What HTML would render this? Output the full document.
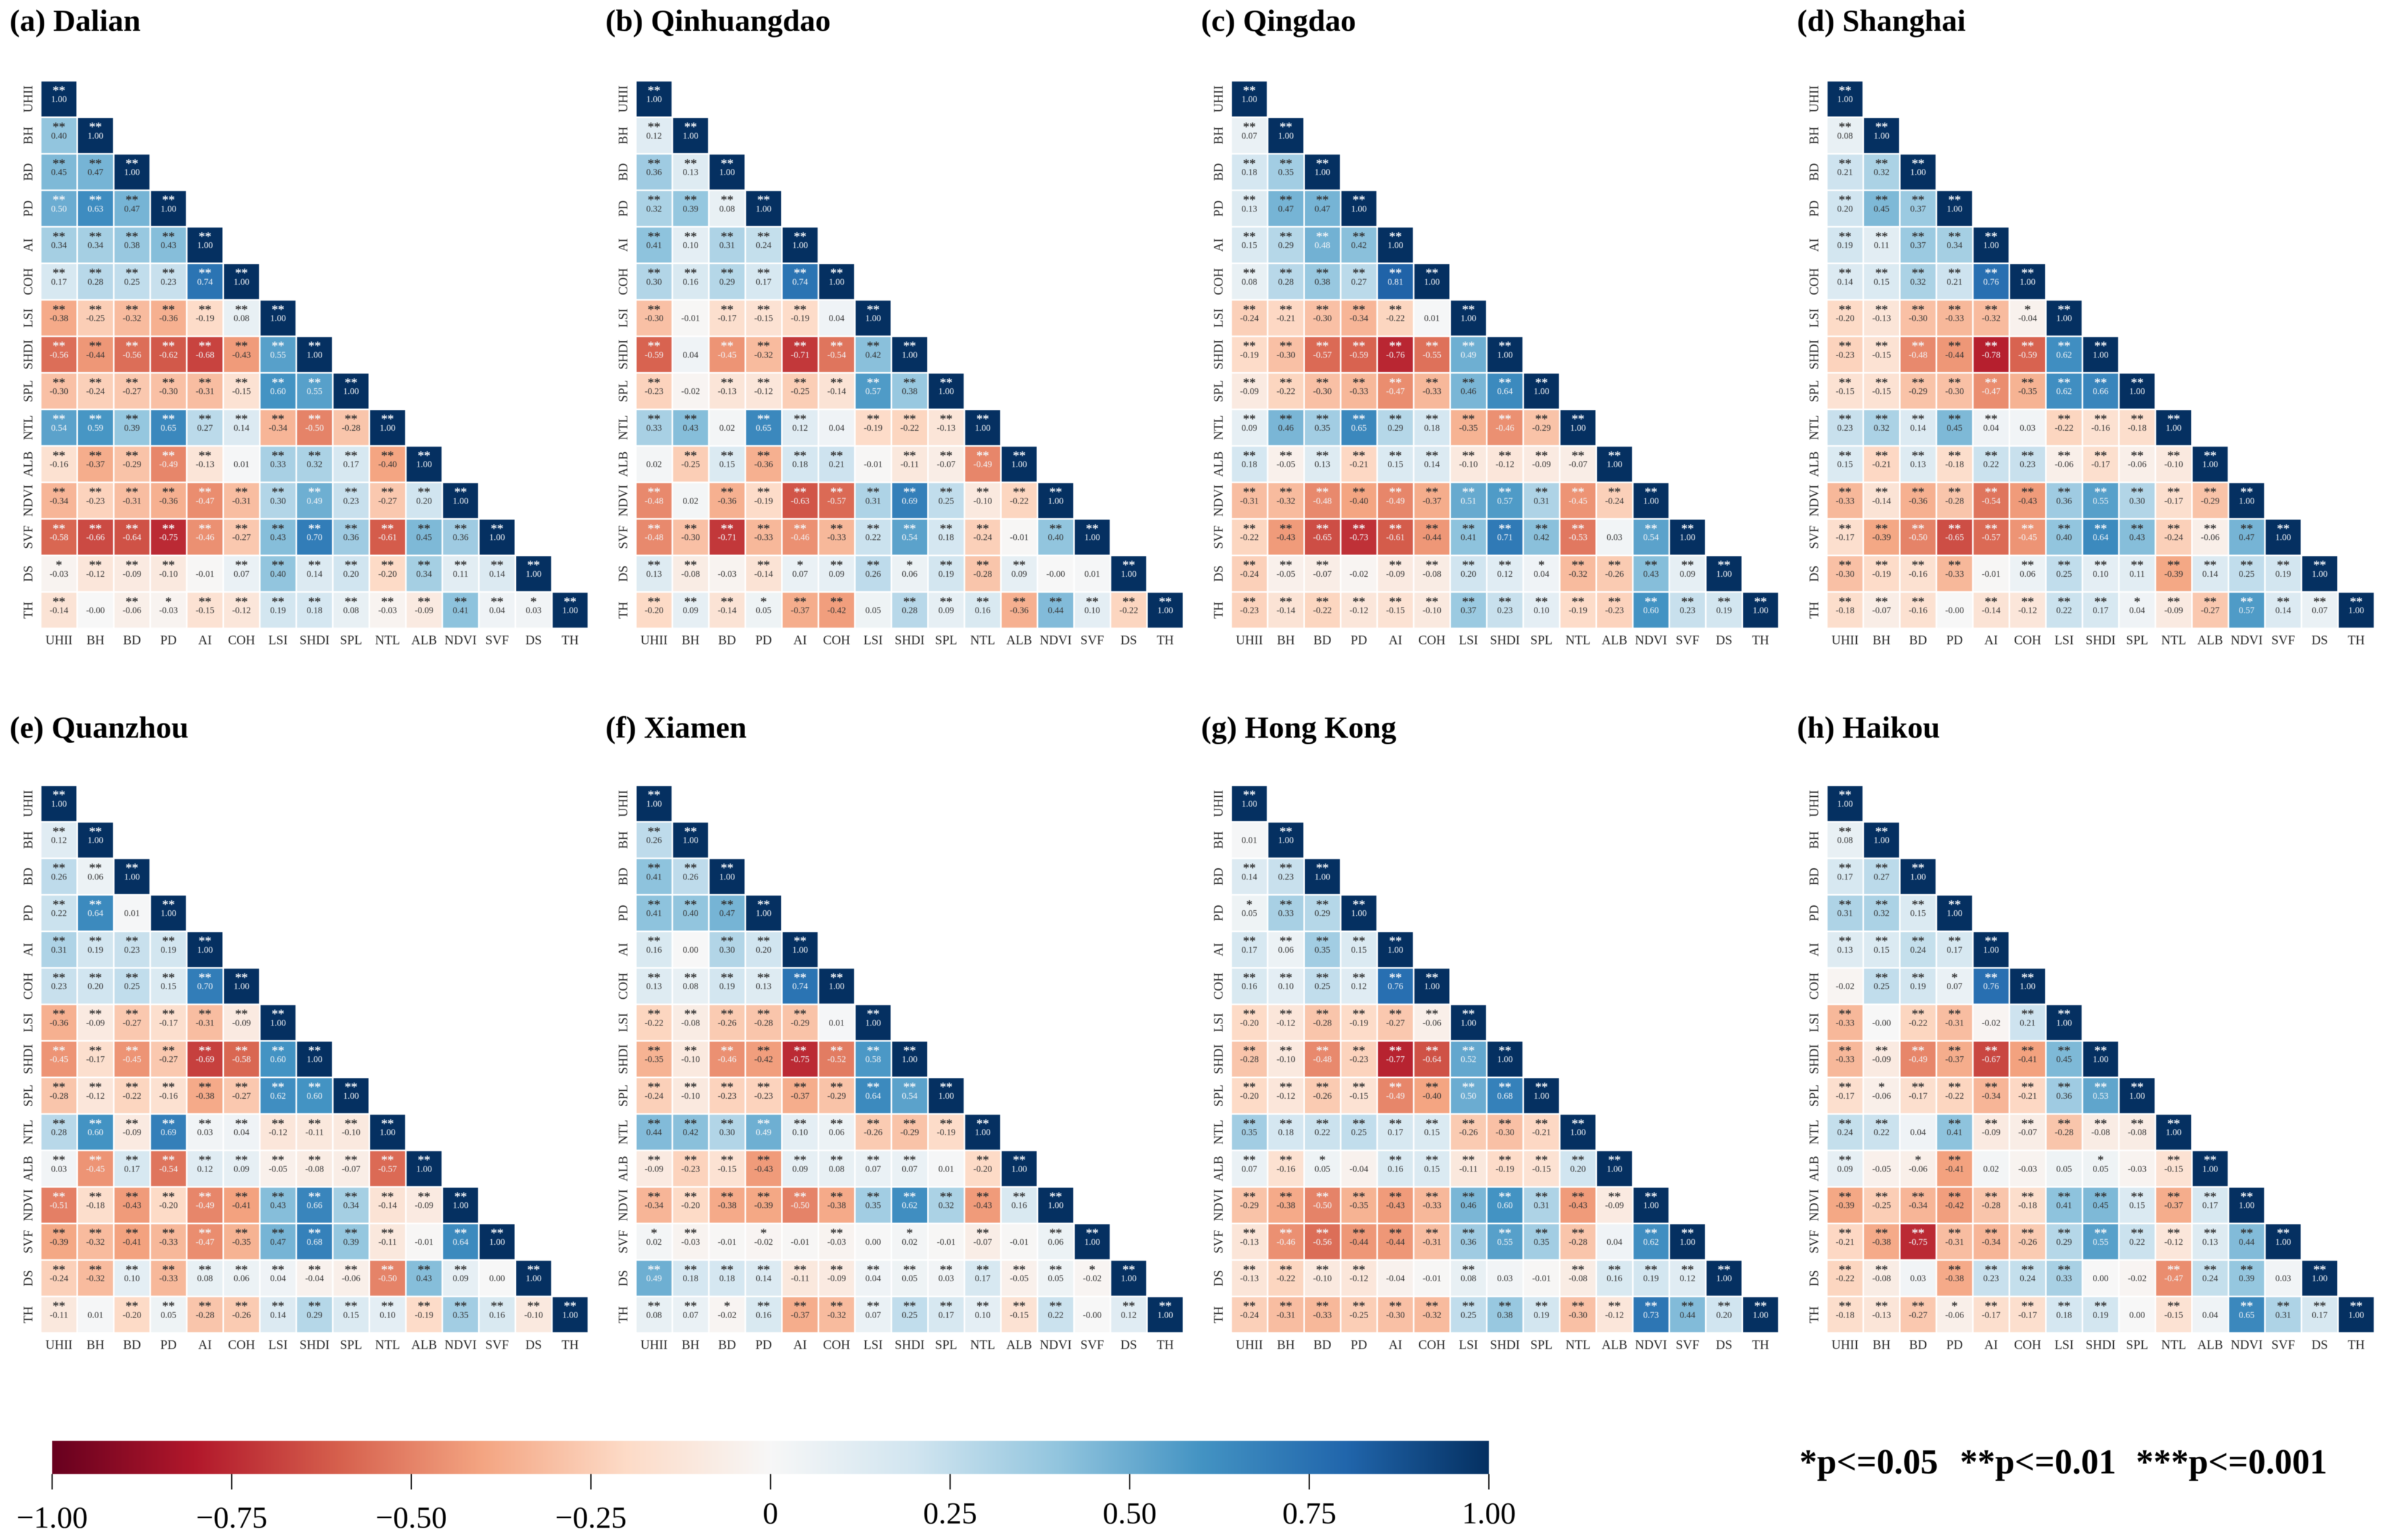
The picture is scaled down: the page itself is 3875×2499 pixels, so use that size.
<!DOCTYPE html>
<html lang="en">
<head>
<meta charset="utf-8">
<title>Correlation heatmaps of eight coastal cities</title>
<style>
html,body{margin:0;padding:0;background:#fff;}
body{width:3875px;height:2499px;overflow:hidden;}
svg{display:block;font-family:"Liberation Serif",serif;filter:blur(0.6px);}
</style>
</head>
<body>
<svg id="figure" xmlns="http://www.w3.org/2000/svg" width="3875" height="2499" viewBox="0 0 3875 2499">
  <defs>
    <linearGradient id="rdbu" x1="0" x2="1" y1="0" y2="0"></linearGradient>
  </defs>
  <rect x="0" y="0" width="3875" height="2499" fill="#fff"></rect>
</svg>
<script>
const categories = ['UHII','BH','BD','PD','AI','COH','LSI','SHDI','SPL','NTL','ALB','NDVI','SVF','DS','TH'];

const dalianValues = [
[1],
[.40,1],
[.45,.47,1],
[.50,.63,.47,1],
[.34,.34,.38,.43,1],
[.17,.28,.25,.23,.74,1],
[-.38,-.25,-.32,-.36,-.19,.08,1],
[-.56,-.44,-.56,-.62,-.68,-.43,.55,1],
[-.30,-.24,-.27,-.30,-.31,-.15,.60,.55,1],
[.54,.59,.39,.65,.27,.14,-.34,-.50,-.28,1],
[-.16,-.37,-.29,-.49,-.13,.01,.33,.32,.17,-.40,1],
[-.34,-.23,-.31,-.36,-.47,-.31,.30,.49,.23,-.27,.20,1],
[-.58,-.66,-.64,-.75,-.46,-.27,.43,.70,.36,-.61,.45,.36,1],
[-.03,-.12,-.09,-.10,-.01,.07,.40,.14,.20,-.20,.34,.11,.14,1],
[-.14,-0,-.06,-.03,-.15,-.12,.19,.18,.08,-.03,-.09,.41,.04,.03,1]
];
const dalianStars = ['2','22','222','2222','22222','222222','2222222','22222222','222222222','2222222222','22222022222','222222222222','2222222222222','12220222222222','202122222222212'];

const qinhuangdaoValues = [
[1],
[.12,1],
[.36,.13,1],
[.32,.39,.08,1],
[.41,.10,.31,.24,1],
[.30,.16,.29,.17,.74,1],
[-.30,-.01,-.17,-.15,-.19,.04,1],
[-.59,.04,-.45,-.32,-.71,-.54,.42,1],
[-.23,-.02,-.13,-.12,-.25,-.14,.57,.38,1],
[.33,.43,.02,.65,.12,.04,-.19,-.22,-.13,1],
[.02,-.25,.15,-.36,.18,.21,-.01,-.11,-.07,-.49,1],
[-.48,.02,-.36,-.19,-.63,-.57,.31,.69,.25,-.10,-.22,1],
[-.48,-.30,-.71,-.33,-.46,-.33,.22,.54,.18,-.24,-.01,.40,1],
[.13,-.08,-.03,-.14,.07,.09,.26,.06,.19,-.28,.09,-0,.01,1],
[-.20,.09,-.14,.05,-.37,-.42,.05,.28,.09,.16,-.36,.44,.10,-.22,1]
];
const qinhuangdaoStars = ['2','22','222','2222','22222','222222','2022202','20222222','202222222','2202202222','02222202222','202222222222','2222222222022','22021221222002','222122022222222'];

const qingdaoValues = [
[1],
[.07,1],
[.18,.35,1],
[.13,.47,.47,1],
[.15,.29,.48,.42,1],
[.08,.28,.38,.27,.81,1],
[-.24,-.21,-.30,-.34,-.22,.01,1],
[-.19,-.30,-.57,-.59,-.76,-.55,.49,1],
[-.09,-.22,-.30,-.33,-.47,-.33,.46,.64,1],
[.09,.46,.35,.65,.29,.18,-.35,-.46,-.29,1],
[.18,-.05,.13,-.21,.15,.14,-.10,-.12,-.09,-.07,1],
[-.31,-.32,-.48,-.40,-.49,-.37,.51,.57,.31,-.45,-.24,1],
[-.22,-.43,-.65,-.73,-.61,-.44,.41,.71,.42,-.53,.03,.54,1],
[-.24,-.05,-.07,-.02,-.09,-.08,.20,.12,.04,-.32,-.26,.43,.09,1],
[-.23,-.14,-.22,-.12,-.15,-.10,.37,.23,.10,-.19,-.23,.60,.23,.19,1]
];
const qingdaoStars = ['2','22','222','2222','22222','222222','2222202','22222222','222222222','2222222222','22222222222','222222222222','2222222222022','22202222122222','222222222222222'];

const shanghaiValues = [
[1],
[.08,1],
[.21,.32,1],
[.20,.45,.37,1],
[.19,.11,.37,.34,1],
[.14,.15,.32,.21,.76,1],
[-.20,-.13,-.30,-.33,-.32,-.04,1],
[-.23,-.15,-.48,-.44,-.78,-.59,.62,1],
[-.15,-.15,-.29,-.30,-.47,-.35,.62,.66,1],
[.23,.32,.14,.45,.04,.03,-.22,-.16,-.18,1],
[.15,-.21,.13,-.18,.22,.23,-.06,-.17,-.06,-.10,1],
[-.33,-.14,-.36,-.28,-.54,-.43,.36,.55,.30,-.17,-.29,1],
[-.17,-.39,-.50,-.65,-.57,-.45,.40,.64,.43,-.24,-.06,.47,1],
[-.30,-.19,-.16,-.33,-.01,.06,.25,.10,.11,-.39,.14,.25,.19,1],
[-.18,-.07,-.16,-0,-.14,-.12,.22,.17,.04,-.09,-.27,.57,.14,.07,1]
];
const shanghaiStars = ['2','22','222','2222','22222','222222','2222212','22222222','222222222','2222202222','22222222222','222222222222','2222222222222','22220222222222','222022221222222'];

const quanzhouValues = [
[1],
[.12,1],
[.26,.06,1],
[.22,.64,.01,1],
[.31,.19,.23,.19,1],
[.23,.20,.25,.15,.70,1],
[-.36,-.09,-.27,-.17,-.31,-.09,1],
[-.45,-.17,-.45,-.27,-.69,-.58,.60,1],
[-.28,-.12,-.22,-.16,-.38,-.27,.62,.60,1],
[.28,.60,-.09,.69,.03,.04,-.12,-.11,-.10,1],
[.03,-.45,.17,-.54,.12,.09,-.05,-.08,-.07,-.57,1],
[-.51,-.18,-.43,-.20,-.49,-.41,.43,.66,.34,-.14,-.09,1],
[-.39,-.32,-.41,-.33,-.47,-.35,.47,.68,.39,-.11,-.01,.64,1],
[-.24,-.32,.10,-.33,.08,.06,.04,-.04,-.06,-.50,.43,.09,.00,1],
[-.11,.01,-.20,.05,-.28,-.26,.14,.29,.15,.10,-.19,.35,.16,-.10,1]
];
const quanzhouStars = ['2','22','222','2202','22222','222222','2222222','22222222','222222222','2222222222','22222222222','222222222222','2222222222022','22222222222202','202222222222222'];

const xiamenValues = [
[1],
[.26,1],
[.41,.26,1],
[.41,.40,.47,1],
[.16,.00,.30,.20,1],
[.13,.08,.19,.13,.74,1],
[-.22,-.08,-.26,-.28,-.29,.01,1],
[-.35,-.10,-.46,-.42,-.75,-.52,.58,1],
[-.24,-.10,-.23,-.23,-.37,-.29,.64,.54,1],
[.44,.42,.30,.49,.10,.06,-.26,-.29,-.19,1],
[-.09,-.23,-.15,-.43,.09,.08,.07,.07,.01,-.20,1],
[-.34,-.20,-.38,-.39,-.50,-.38,.35,.62,.32,-.43,.16,1],
[.02,-.03,-.01,-.02,-.01,-.03,.00,.02,-.01,-.07,-.01,.06,1],
[.49,.18,.18,.14,-.11,-.09,.04,.05,.03,.17,-.05,.05,-.02,1],
[.08,.07,-.02,.16,-.37,-.32,.07,.25,.17,.10,-.15,.22,-0,.12,1]
];
const xiamenStars = ['2','22','222','2222','20222','222222','2222202','22222222','222222222','2222222222','22222222022','222222222222','1201020102022','22222222222212','221222222222022'];

const hongKongValues = [
[1],
[.01,1],
[.14,.23,1],
[.05,.33,.29,1],
[.17,.06,.35,.15,1],
[.16,.10,.25,.12,.76,1],
[-.20,-.12,-.28,-.19,-.27,-.06,1],
[-.28,-.10,-.48,-.23,-.77,-.64,.52,1],
[-.20,-.12,-.26,-.15,-.49,-.40,.50,.68,1],
[.35,.18,.22,.25,.17,.15,-.26,-.30,-.21,1],
[.07,-.16,.05,-.04,.16,.15,-.11,-.19,-.15,.20,1],
[-.29,-.38,-.50,-.35,-.43,-.33,.46,.60,.31,-.43,-.09,1],
[-.13,-.46,-.56,-.44,-.44,-.31,.36,.55,.35,-.28,.04,.62,1],
[-.13,-.22,-.10,-.12,-.04,-.01,.08,.03,-.01,-.08,.16,.19,.12,1],
[-.24,-.31,-.33,-.25,-.30,-.32,.25,.38,.19,-.30,-.12,.73,.44,.20,1]
];
const hongKongStars = ['2','02','222','1222','22222','222222','2222222','22222222','222222222','2222222222','22102222222','222222222222','2222222222022','22220020022222','222222222222222'];

const haikouValues = [
[1],
[.08,1],
[.17,.27,1],
[.31,.32,.15,1],
[.13,.15,.24,.17,1],
[-.02,.25,.19,.07,.76,1],
[-.33,-0,-.22,-.31,-.02,.21,1],
[-.33,-.09,-.49,-.37,-.67,-.41,.45,1],
[-.17,-.06,-.17,-.22,-.34,-.21,.36,.53,1],
[.24,.22,.04,.41,-.09,-.07,-.28,-.08,-.08,1],
[.09,-.05,-.06,-.41,.02,-.03,.05,.05,-.03,-.15,1],
[-.39,-.25,-.34,-.42,-.28,-.18,.41,.45,.15,-.37,.17,1],
[-.21,-.38,-.75,-.31,-.34,-.26,.29,.55,.22,-.12,.13,.44,1],
[-.22,-.08,.03,-.38,.23,.24,.33,.00,-.02,-.47,.24,.39,.03,1],
[-.18,-.13,-.27,-.06,-.17,-.17,.18,.19,.00,-.15,.04,.65,.31,.17,1]
];
const haikouStars = ['2','22','222','2222','22222','022122','2022022','22222222','212222222','2202222222','20120001022','222222222222','2222222222222','22022220022202','222122220202222'];

const panelTitles = ['(a) Dalian','(b) Qinhuangdao','(c) Qingdao','(d) Shanghai','(e) Quanzhou','(f) Xiamen','(g) Hong Kong','(h) Haikou'];
const panelSlugs = ['dalian','qinhuangdao','qingdao','shanghai','quanzhou','xiamen','hong-kong','haikou'];
const panelValues = [dalianValues,qinhuangdaoValues,qingdaoValues,shanghaiValues,quanzhouValues,xiamenValues,hongKongValues,haikouValues];
const panelStars = [dalianStars,qinhuangdaoStars,qingdaoStars,shanghaiStars,quanzhouStars,xiamenStars,hongKongStars,haikouStars];

const colorbarTicks = [-1,-0.75,-0.5,-0.25,0,0.25,0.5,0.75,1];
const colorbarLabels = ['\u22121.00','\u22120.75','\u22120.50','\u22120.25','0','0.25','0.50','0.75','1.00'];
const significanceNotes = ['*p<=0.05','**p<=0.01','***p<=0.001'];

const rdbuStops = [[103,0,31],[178,24,43],[214,96,77],[244,165,130],[253,219,199],[247,247,247],[209,229,240],[146,197,222],[67,147,195],[33,102,172],[5,48,97]];

const SVG_NS = 'http://www.w3.org/2000/svg';
const figure = document.getElementById('figure');

function make(tag, parent, attrs, text) {
  const el = document.createElementNS(SVG_NS, tag);
  for (const k in attrs) el.setAttribute(k, attrs[k]);
  if (text !== undefined) el.textContent = text;
  parent.appendChild(el);
  return el;
}
function colorRgb(v) {
  const t = Math.max(0, Math.min(1, (v + 1) / 2)) * 10;
  const i = Math.min(9, Math.floor(t));
  const f = t - i;
  return rdbuStops[i].map((c, k) => c + (rdbuStops[i + 1][k] - c) * f);
}
function cssRgb(rgb) {
  return 'rgb(' + rgb.map(c => Math.round(c)).join(',') + ')';
}
function luminance(rgb) {
  const l = rgb.map(c => {
    const s = c / 255;
    return s <= 0.03928 ? s / 12.92 : Math.pow((s + 0.055) / 1.055, 2.4);
  });
  return 0.2126 * l[0] + 0.7152 * l[1] + 0.0722 * l[2];
}
function formatValue(v) {
  const neg = v < 0 || Object.is(v, -0);
  return (neg ? '-' : '') + Math.abs(v).toFixed(2);
}

const PITCH = 59.25;
const CELL = 56.7;
const gridLeft = [67.3, 1033, 1999, 2965.6];
const gridTop = [132.3, 1275.6];
const titleLeft = [15.6, 982.5, 1949, 2916];
const titleBase = [50, 1197];

function drawPanel(p) {
  const col = p % 4, row = Math.floor(p / 4);
  const x0 = gridLeft[col], y0 = gridTop[row];
  const xScale = i => x0 + i * PITCH;
  const yScale = i => y0 + i * PITCH;
  const values = panelValues[p], stars = panelStars[p];
  const slug = panelSlugs[p];

  const g = make('g', figure, {});
  
  

  const title = make('text', g, {x: titleLeft[col], y: titleBase[row], 'font-size': 50, 'font-weight': 'bold', fill: '#000'}, panelTitles[p]);
  
  

  values.forEach((rowVals, r) => {
    rowVals.forEach((v, c) => {
      const rgb = colorRgb(v);
      const fg = luminance(rgb) > 0.408 ? '#333333' : '#f2f4f7';
      const x = xScale(c), y = yScale(r);
      const rect = make('rect', g, {x: x, y: y, width: CELL, height: CELL, fill: cssRgb(rgb)});
      
      
      const starCount = Number(stars[r][c]);
      if (starCount > 0) {
        const st = make('text', g, {x: x + CELL / 2, y: y + 20.5, 'font-size': 20.5, 'text-anchor': 'middle', fill: fg, stroke: fg, 'stroke-width': 0.35}, '*'.repeat(starCount));
        
        
      }
      const tx = make('text', g, {x: x + CELL / 2, y: y + CELL / 2 + 5, 'font-size': 14.6, 'text-anchor': 'middle', fill: fg}, formatValue(v));
      
      
    });
  });

  categories.forEach((name, i) => {
    const xl = make('text', g, {x: xScale(i) + CELL / 2, y: yScale(14) + CELL + 27, 'font-size': 20.8, 'text-anchor': 'middle', fill: '#262626'}, name);
    
    
    const ly = yScale(i) + CELL / 2, lx = x0 - 15;
    const yl = make('text', g, {x: lx, y: ly, 'font-size': 20.8, 'text-anchor': 'middle', fill: '#262626', transform: 'rotate(-90 ' + lx + ' ' + ly + ')'}, name);
    
    
  });
}
panelTitles.forEach((_, p) => drawPanel(p));

/* colour bar */
const CB_LEFT = 84.6, CB_RIGHT = 2416, CB_TOP = 2338, CB_BOTTOM = 2392;
const cbScale = v => CB_LEFT + (v + 1) / 2 * (CB_RIGHT - CB_LEFT);
const gradient = document.getElementById('rdbu');
rdbuStops.forEach((c, i) => {
  make('stop', gradient, {offset: (i * 10) + '%', 'stop-color': cssRgb(c)});
});
const cb = make('g', figure, {});


const cbRect = make('rect', cb, {x: CB_LEFT, y: CB_TOP, width: CB_RIGHT - CB_LEFT, height: CB_BOTTOM - CB_TOP, fill: 'url(#rdbu)'});


colorbarTicks.forEach((v, i) => {
  const x = cbScale(v);
  const tick = make('line', cb, {x1: x, x2: x, y1: CB_BOTTOM, y2: 2417, stroke: '#000', 'stroke-width': 2});
  
  
  const label = make('text', cb, {x: x, y: v < 0 ? 2479 : 2472, 'font-size': 50, 'text-anchor': 'middle', fill: '#000'}, colorbarLabels[i]);
  
  
});

/* significance legend */
const noteLeft = [2920, 3180.5, 3466];
significanceNotes.forEach((note, i) => {
  const t = make('text', figure, {x: noteLeft[i], y: 2391, 'font-size': 57, 'font-weight': 'bold', fill: '#000'}, note);
  
  
});
</script>
</body>
</html>
